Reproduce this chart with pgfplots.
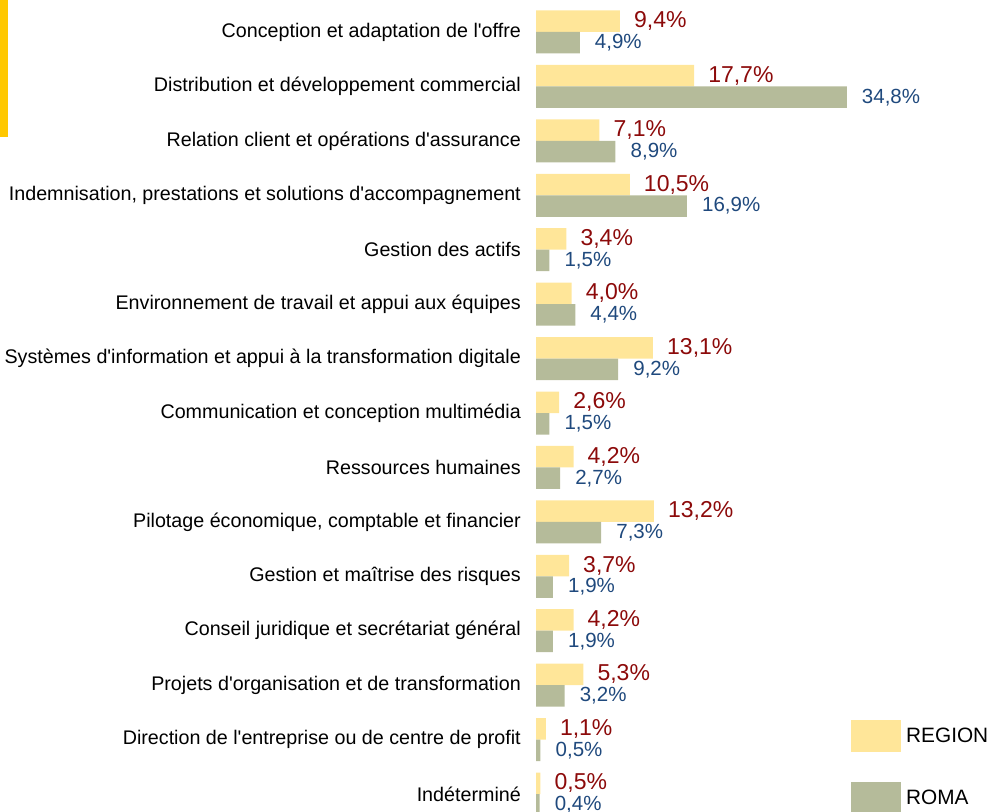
\documentclass[border=0pt]{standalone}
\usepackage{fontspec}
\setmainfont{Liberation Sans}[Ligatures=TeXOff]
\usepackage{pgfplots}
\pgfplotsset{compat=1.18}
\definecolor{regbar}{HTML}{FFE699}
\definecolor{romabar}{HTML}{B5BB9A}
\definecolor{reglbl}{HTML}{8C0A0A}
\definecolor{romalbl}{HTML}{1F497D}
\definecolor{accent}{HTML}{FFC800}

\begin{document}
\begin{tikzpicture}
\path[use as bounding box, clip] (0,0) rectangle (991bp,812bp);
\fill[accent] (0bp,675bp) rectangle (8bp,812bp);
\begin{axis}[at={(536bp,0bp)}, anchor=south west, scale only axis,
    width=455bp, height=812bp,
    xmin=0, xmax=50.95, ymin=-0.330, ymax=14.588,
    axis line style={draw=none}, xtick=\empty, major tick length=0pt,
    ytick={0,...,14},
    yticklabels={Indéterminé,
      Direction de l'entreprise ou de centre de profit,
      Projets d'organisation et de transformation,
      Conseil juridique et secrétariat général,
      Gestion et maîtrise des risques,
      {Pilotage économique, comptable et financier},
      Ressources humaines,
      Communication et conception multimédia,
      Systèmes d'information et appui à la transformation digitale,
      Environnement de travail et appui aux équipes,
      Gestion des actifs,
      {Indemnisation, prestations et solutions d'accompagnement},
      Relation client et opérations d'assurance,
      Distribution et développement commercial,
      Conception et adaptation de l'offre},
    yticklabel style={font=\fontsize{19.7bp}{22bp}\selectfont, inner sep=0pt, xshift=-15bp},
    xbar, bar width=21.5bp, clip=false,
    /pgf/number format/assume math mode=true,
    nodes near coords={\pgfmathprintnumber[fixed,fixed zerofill,precision=1,use comma]{\pgfplotspointmeta}\%},
    legend style={at={(0.6923,0.1133)}, anchor=north west, draw=none, fill=none,
      inner sep=0pt, row sep=30bp, column sep=5bp,
      nodes={inner sep=0pt, anchor=west, font=\fontsize{20.8bp}{22bp}\selectfont}},
  ]
  \addplot[fill=regbar, draw=none, bar shift=10.75bp,
    every node near coord/.append style={anchor=west, inner sep=0pt, xshift=14bp,
      text=reglbl, font=\fontsize{23bp}{25bp}\selectfont},
    legend image code/.code={\fill[regbar] (0bp,-16bp) rectangle (50bp,16bp);}]
    coordinates {(9.4,14) (17.7,13) (7.1,12) (10.5,11) (3.4,10) (4.0,9) (13.1,8)
      (2.6,7) (4.2,6) (13.2,5) (3.7,4) (4.2,3) (5.3,2) (1.1,1) (0.5,0)};
  \addplot[fill=romabar, draw=none, bar shift=-10.75bp,
    every node near coord/.append style={anchor=west, inner sep=0pt, xshift=15bp,
      text=romalbl, font=\fontsize{20.5bp}{22bp}\selectfont},
    legend image code/.code={\fill[romabar] (0bp,-16bp) rectangle (50bp,16bp);}]
    coordinates {(4.9,14) (34.8,13) (8.9,12) (16.9,11) (1.5,10) (4.4,9) (9.2,8)
      (1.5,7) (2.7,6) (7.3,5) (1.9,4) (1.9,3) (3.2,2) (0.5,1) (0.4,0)};
  \legend{REGION, ROMA}
\end{axis}
\end{tikzpicture}
\end{document}
